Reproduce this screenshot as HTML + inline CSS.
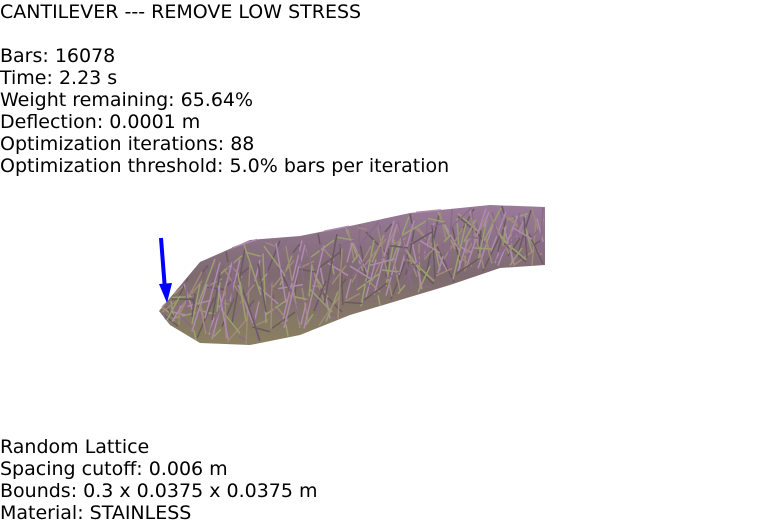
<!DOCTYPE html>
<html><head><meta charset="utf-8"><style>
body{margin:0;width:782px;height:525px;background:#fff;overflow:hidden;position:relative;font-family:"DejaVu Sans","Liberation Sans",sans-serif;}
.t{position:absolute;left:0;font-size:19px;line-height:22px;color:#000;white-space:nowrap;}
</style></head><body>
<div class="t" style="top:1px">CANTILEVER --- REMOVE LOW STRESS</div>
<div class="t" style="top:45px">Bars: 16078<br>Time: 2.23 s<br>Weight remaining: 65.64%<br>Deflection: 0.0001 m<br>Optimization iterations: 88<br>Optimization threshold: 5.0% bars per iteration</div>
<div class="t" style="top:436px">Random Lattice<br>Spacing cutoff: 0.006 m<br>Bounds: 0.3 x 0.0375 x 0.0375 m<br>Material: STAINLESS</div>
<svg width="782" height="525" style="position:absolute;left:0;top:0">
<defs><linearGradient id="g" x1="0" y1="0" x2="0" y2="1">
<stop offset="0" stop-color="#9a7a9a"/><stop offset="0.5" stop-color="#7e6a70"/><stop offset="1" stop-color="#8a8060"/></linearGradient></defs>
<polygon points="159,311 200,262 250,240 300,236 350,226 410,213 490,205 545,207 545,265 500,268 450,285 400,300 350,315 300,335 250,345 200,343 170,325" fill="url(#g)"/>
<g id="lines" stroke-width="1.5"></g>
<line x1="161" y1="238" x2="165" y2="290" stroke="#0000ff" stroke-width="4"/>
<polygon points="159,284 172,283 167,303" fill="#0000ff"/>
</svg>
<script>
var g=document.getElementById('lines');
var cols=['#b08ab0','#a08a78','#6a5a60','#9aa070','#8a6a8a'];
var T=[[159,311],[200,262],[250,240],[300,236],[350,226],[410,213],[490,205],[545,207]];
var B=[[159,311],[170,325],[200,343],[250,345],[300,335],[350,315],[400,300],[450,285],[500,268],[545,265]];
function interp(P,x){for(var k=0;k<P.length-1;k++){if(x<=P[k+1][0]){var t=(x-P[k][0])/(P[k+1][0]-P[k][0]);return P[k][1]+t*(P[k+1][1]-P[k][1]);}}return P[P.length-1][1];}
for(var i=0;i<320;i++){
 var x1=165+((i*137)%378), x2=Math.max(162,Math.min(543,x1+((i*31)%50)-25));
 var f1=((i*53)%100)/100, f2=((i*89)%100)/100;
 var y1=interp(T,x1)+f1*(interp(B,x1)-interp(T,x1));
 var y2=interp(T,x2)+f2*(interp(B,x2)-interp(T,x2));
 var l=document.createElementNS('http://www.w3.org/2000/svg','line');
 
 
 l.setAttribute('x1',x1);l.setAttribute('y1',y1);
 l.setAttribute('x2',x2);l.setAttribute('y2',y2);
 l.setAttribute('stroke',cols[i%5]);g.appendChild(l);
}
</script>
</body></html>
